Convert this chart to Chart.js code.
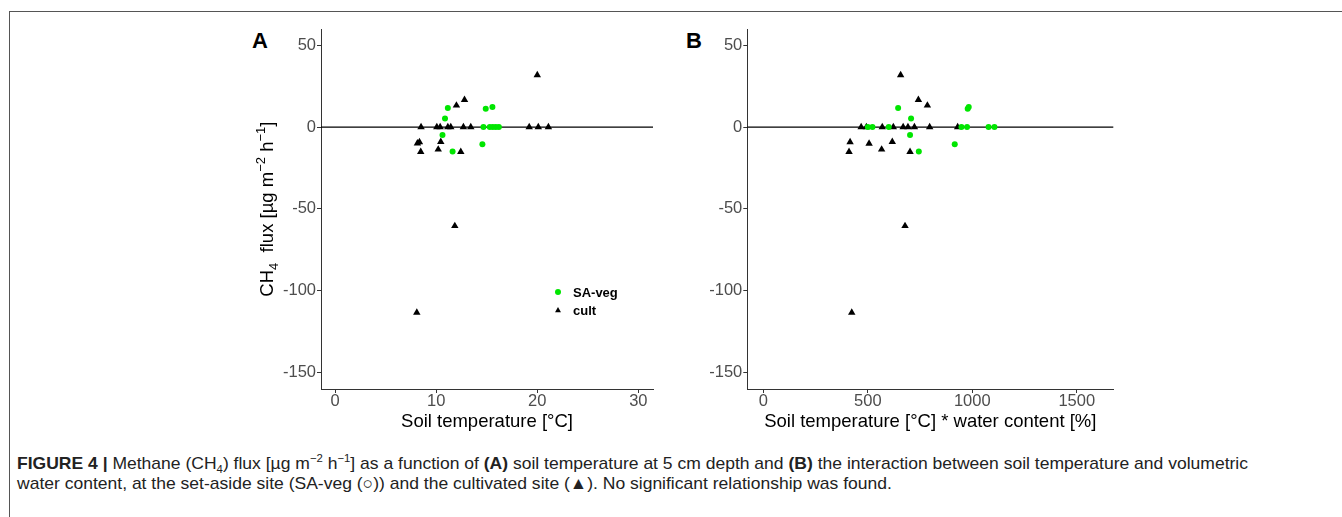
<!DOCTYPE html>
<html lang="en">
<head>
<meta charset="UTF-8">
<title>Figure 4 - Methane flux</title>
<script src="https://cdn.jsdelivr.net/npm/chart.js"></script>
<style>
  body { margin: 0; width: 1342px; height: 517px; background: #fff; position: relative; overflow: hidden;
         font-family: "Liberation Sans", Arial, sans-serif; }
  .frame { position: absolute; left: 9px; top: 11px; width: 1400px; height: 600px;
           border-left: 1px solid #555; border-top: 1px solid #555; }
  .panel { position: absolute; top: 20px; }
  #panelA { left: 220px; }
  #panelB { left: 680px; }
  .tag { position: absolute; top: 30px; font-weight: bold; font-size: 22px; line-height: 22px; color: #000; }
  .caption { position: absolute; left: 17px; top: 454px; font-size: 17px; line-height: 20px; color: #222;
             white-space: nowrap; }
  .caption span { display: inline-block; transform-origin: 0 0; }
  .caption sub, .caption sup { font-size: 11px; line-height: 0; }
</style>
</head>
<body>
<div class="frame"></div>
<div class="tag" style="left:252px">A</div>
<div class="tag" style="left:686px">B</div>
<canvas id="panelA" class="panel" width="460" height="420"></canvas>
<canvas id="panelB" class="panel" width="460" height="420"></canvas>
<div class="caption">
  <span id="cap1"><b>FIGURE 4 |</b> Methane (CH<sub>4</sub>) flux [µg m<sup>−2</sup> h<sup>−1</sup>] as a function of <b>(A)</b> soil temperature at 5 cm depth and <b>(B)</b> the interaction between soil temperature and volumetric</span><br>
  <span id="cap2">water content, at the set-aside site (SA-veg (○)) and the cultivated site (▲). No significant relationship was found.</span>
</div>

<script>
// --- data ---
// panel A: soil temperature [°C]
const saVegTempA = [11.15, 10.87, 10.62, 11.62, 14.9, 15.56, 14.57, 14.67, 15.3, 15.6, 15.9, 16.2];
const saVegFluxA = [11.7, 5.2, -4.9, -15.0, 11.2, 12.2, -10.5, 0, 0, 0, 0, 0];
const cultTempA = [20.0, 12.8, 12.0, 8.5, 10.06, 10.39, 11.15, 11.44, 12.69, 13.42, 19.2, 20.1, 21.1,
                   8.14, 8.34, 8.47, 10.45, 10.2, 12.43, 11.84, 8.08];
const cultFluxA = [31.8, 16.6, 13.2, 0, 0, 0, 0, 0, 0, 0, 0, 0, 0,
                   -10.0, -9.2, -15.1, -9.0, -13.7, -15.1, -60.5, -113.5];

// panel B: soil temperature * water content
const saVegProdB = [645, 707, 702, 744, 916, 978, 983, 500, 522, 600, 948, 975, 1078, 1106];
const saVegFluxB = [11.7, 5.2, -4.9, -15.0, -10.5, 11.2, 12.2, 0, 0, 0, 0, 0, 0, 0];
const cultProdB = [657, 742, 785, 468, 493, 569, 622, 669, 692, 723, 796, 930,
                   415, 410, 506, 566, 617, 702, 678, 423];
const cultFluxB = [31.8, 16.6, 13.2, 0, 0, 0, 0, 0, 0, 0, 0, 0,
                   -9.2, -15.1, -10.1, -13.7, -9.0, -15.1, -60.5, -113.5];

const seriesNames = ['SA-veg', 'cult'];
const yTicks = [-150, -100, -50, 0, 50];
const xTicksA = [0, 10, 20, 30];
const xTicksB = [0, 500, 1000, 1500];

const GREEN = '#00e600';
const TICK_GREY = '#4d4d4d';
const AXIS = '#333';

function toPoints(xs, ys) {
    return xs.map((x, i) => ({ x: x, y: ys[i] }));
}

// horizontal line at zero
const zeroLine = {
    id: 'zeroLine',
    beforeDatasetsDraw(chart) {
        const { ctx, chartArea } = chart;
        const y = chart.scales.y.getPixelForValue(0);
        ctx.save();
        ctx.strokeStyle = '#000';
        ctx.lineWidth = 1.2;
        ctx.beginPath();
        ctx.moveTo(chartArea.left, y);
        ctx.lineTo(chartArea.right, y);
        ctx.stroke();
        ctx.restore();
    }
};

// y title with sub/superscripts
const richYTitle = {
    id: 'richYTitle',
    afterDraw(chart, args, opts) {
        if (!opts.display) return;
        const ctx = chart.ctx;
        const area = chart.chartArea;
        const big = '18.5px "Liberation Sans", Arial, sans-serif';
        const small = '13px "Liberation Sans", Arial, sans-serif';
        const parts = [
            ['CH', big, 0], ['4', small, 5], ['  flux [µg m', big, 0],
            ['−2', small, -8], [' h', big, 0], ['−1', small, -8], [']', big, 0]
        ];
        ctx.save();
        let total = 0;
        parts.forEach(p => { ctx.font = p[1]; total += ctx.measureText(p[0]).width; });
        ctx.translate(opts.x, (area.top + area.bottom) / 2);
        ctx.rotate(-Math.PI / 2);
        ctx.fillStyle = '#000';
        ctx.textBaseline = 'alphabetic';
        let x = -total / 2;
        parts.forEach(p => {
            ctx.font = p[1];
            ctx.fillText(p[0], x, p[2]);
            x += ctx.measureText(p[0]).width;
        });
        ctx.restore();
    }
};

// legend drawn inside panel A
const innerLegend = {
    id: 'innerLegend',
    afterDraw(chart, args, opts) {
        if (!opts.display) return;
        const ctx = chart.ctx;
        ctx.save();
        ctx.font = 'bold 13px "Liberation Sans", Arial, sans-serif';
        ctx.textBaseline = 'middle';
        chart.data.datasets.forEach((ds, i) => {
            const y = opts.y + i * 18.5;
            ctx.fillStyle = ds.backgroundColor;
            Chart.helpers.drawPoint(ctx, {
                pointStyle: ds.pointStyle, radius: i === 0 ? 3 : 3.4, rotation: 0, borderWidth: 0
            }, opts.x, y);
            ctx.fillStyle = '#000';
            ctx.fillText(ds.label, opts.x + 15, y + 1);
        });
        ctx.restore();
    }
};

function makeChart(id, sa, cult, xMin, xMax, xTicks, xTitle, yWidth, showY, rightPad) {
    return new Chart(document.getElementById(id), {
        type: 'scatter',
        data: {
            datasets: [
                { label: seriesNames[0], data: sa, pointStyle: 'circle', pointRadius: 3,
                  backgroundColor: GREEN, borderWidth: 0, pointBorderWidth: 0 },
                { label: seriesNames[1], data: cult, pointStyle: 'triangle', pointRadius: 4.3,
                  backgroundColor: '#000', borderWidth: 0, pointBorderWidth: 0 }
            ]
        },
        options: {
            responsive: false,
            animation: false,
            layout: { padding: { top: 8, right: rightPad, left: 0, bottom: 0 } },
            plugins: {
                legend: { display: false },
                tooltip: { enabled: false },
                richYTitle: { display: showY, x: 53 },
                innerLegend: { display: showY, x: 338, y: 272 }
            },
            scales: {
                x: {
                    type: 'linear', min: xMin, max: xMax,
                    afterBuildTicks: s => { s.ticks = xTicks.map(v => ({ value: v })); },
                    afterFit: s => { s.height = 51; },
                    border: { display: true, color: AXIS, width: 1 },
                    grid: { drawOnChartArea: false, drawTicks: true, tickLength: 4, tickColor: AXIS },
                    ticks: { color: TICK_GREY, padding: 0, callback: v => String(v),
                             font: { family: '"Liberation Sans", Arial, sans-serif', size: 16.5, lineHeight: 1 } },
                    title: { display: true, text: xTitle, color: '#000', padding: { top: 0, bottom: 7 },
                             font: { family: '"Liberation Sans", Arial, sans-serif', size: 18.5 } }
                },
                y: {
                    type: 'linear', min: -160.2, max: 59.8,
                    afterBuildTicks: s => { s.ticks = yTicks.map(v => ({ value: v })); },
                    afterFit: s => { s.width = yWidth; },
                    border: { display: true, color: AXIS, width: 1 },
                    grid: { drawOnChartArea: false, drawTicks: true, tickLength: 4, tickColor: AXIS },
                    ticks: { color: TICK_GREY, padding: 1, callback: v => String(v),
                             font: { family: '"Liberation Sans", Arial, sans-serif', size: 16.5, lineHeight: 1 } }
                }
            }
        },
        plugins: [zeroLine, richYTitle, innerLegend]
    });
}

makeChart('panelA', toPoints(saVegTempA, saVegFluxA), toPoints(cultTempA, cultFluxA),
          -1.4, 31.45, xTicksA, 'Soil temperature [°C]', 101, true, 27);
makeChart('panelB', toPoints(saVegProdB, saVegFluxB), toPoints(cultProdB, cultFluxB),
          -77, 1675, xTicksB, 'Soil temperature [°C] * water content [%]', 67.3, false, 26.7);

// caption font in the figure is condensed: squeeze lines to the measured width
const cap1 = document.getElementById('cap1');
const cap2 = document.getElementById('cap2');
const squeeze = 1231 / cap1.getBoundingClientRect().width;
[cap1, cap2].forEach(el => { el.style.transform = 'scaleX(' + squeeze + ')'; });
</script>
</body>
</html>
